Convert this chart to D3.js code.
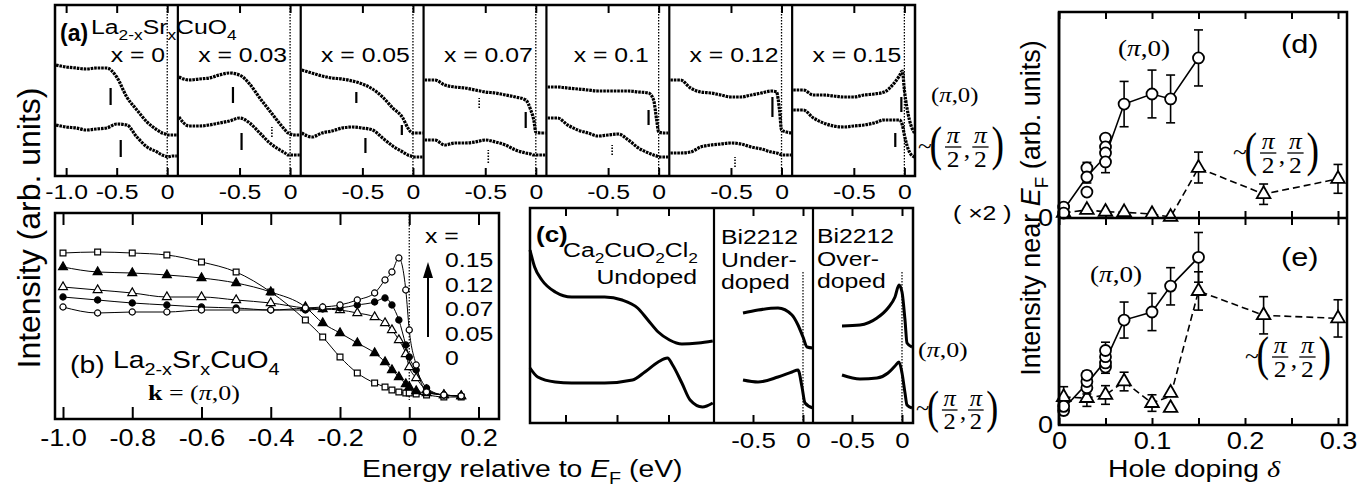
<!DOCTYPE html>
<html><head><meta charset="utf-8">
<script src="https://cdn.jsdelivr.net/npm/d3@7/dist/d3.min.js"></script>
<style>body{margin:0;background:#fff;} svg{display:block;}</style>
</head><body>
<svg id="fig" width="1372" height="491"></svg>
<script>
// ================= DATA =================
// Panel (a): La2-xSrxCuO4 spectra, upper = (pi,0), lower = ~(pi/2,pi/2)
const aDoping = ["0", "0.03", "0.05", "0.07", "0.1", "0.12", "0.15"];
const aEnergy = [-1.1,-1.0,-0.9,-0.8,-0.7,-0.6,-0.5,-0.4,-0.3,-0.2,-0.1,-0.05,-0.02,0,0.05,0.1];
const aPi0 = [
  [111,109,108,107,108,108,99,79,66,54,46,43,42,41,41,41],
  [99,96,97,98,101,103,101,92,78,65,52,46,43,42,41,41],
  [106,103,100,98,97,95,92,87,79,68,58,48,44,43,43,43],
  [96,96,91,89,88,86,84,83,81,79,76,66,56,44,43,43],
  [89,89,88,87,86,85,85,85,85,84,83,76,56,44,43,43],
  [96,96,88,84,83,81,79,79,81,83,85,84,66,46,44,43],
  [86,86,81,81,80,79,79,81,82,84,93,100,105,86,56,43]
];
const aNodal = [
  [51,49,48,46,47,48,52,51,39,29,24,21,20,19,20,20],
  [59,50,50,51,53,55,58,53,43,33,26,23,21,21,21,21],
  [43,39,43,45,48,49,48,46,38,30,24,21,20,19,19,19],
  [36,36,31,33,33,34,36,34,31,26,23,22,21,21,21,21],
  [58,58,51,46,43,40,41,42,36,28,23,21,20,19,19,19],
  [23,23,24,29,31,32,33,32,29,27,24,23,22,21,21,21],
  [66,66,58,53,50,49,50,51,53,56,56,56,51,41,24,19]
];
// marker bars: [energy, low, high, dotted]
const aMarks = [
  [[-0.56,71,88,0],[-0.46,19,36,0]],
  [[-0.565,73,89,0],[-0.18,39,49,1],[-0.48,26,43,0]],
  [[-0.56,73,84,0],[-0.11,41,51,0],[-0.47,23,38,0]],
  [[-0.56,68,78,1],[-0.10,48,64,0],[-0.47,13,26,1]],
  [[-0.10,51,66,0],[-0.46,21,31,1]],
  [[-0.09,59,79,0],[-0.46,9,19,1]],
  [[-0.03,64,79,0],[-0.09,29,43,0]]
];
const aTicksFirst = [-1.0,-0.5,0];
const aTicks = [-0.5,0];

// Panel (b): k = (pi,0)
const bEnergy = [-1.0,-0.9,-0.8,-0.7,-0.6,-0.5,-0.4,-0.3,-0.25,-0.2,-0.15,-0.1,-0.07,-0.05,-0.03,-0.01,0,0.02,0.05,0.1,0.15];
const bX000 = [167,168,167,165,158,148,128,100,83,63,47,37,33,30,28,27,27,26,25,23,23];
const bX005 = [153,148,147,145,142,137,128,113,97,87,77,67,58,50,43,36,33,29,27,25,24];
const bX007 = [133,130,127,123,123,120,117,112,111,110,107,103,97,90,80,66,53,42,30,25,24];
const bX012 = [123,120,117,115,113,112,110,110,111,112,115,118,122,115,100,75,63,50,32,25,24];
const bX015 = [113,107,108,108,110,110,110,112,113,115,120,127,140,148,162,130,90,55,28,25,24];
const bLegend = ["0.15","0.12","0.07","0.05","0"];
const bTicks = [-1.0,-0.8,-0.6,-0.4,-0.2,0,0.2];

// Panel (c)
const cE1Pi0 = [-1.845,-1.80,-1.73,-1.60,-1.44,-1.28,-1.12,-0.95,-0.80,-0.70,-0.60,-0.49,-0.37,-0.21,-0.07];
const cV1Pi0 = [173,156,143,131,126,126,126,123,115,103,91,83,79,80,82];
const cE1Nod = [-1.845,-1.77,-1.60,-1.44,-1.12,-0.85,-0.73,-0.60,-0.51,-0.46,-0.37,-0.29,-0.17,-0.07];
const cV1Nod = [55,46,41,40,40,43,51,61,65,58,40,23,16,20];
const cE2Pi0 = [-0.60,-0.45,-0.25,-0.11,-0.05,0.0,0.04,0.10];
const cV2Pi0 = [110,113,115,108,98,86,76,75];
const cE2Nod = [-0.60,-0.45,-0.25,-0.11,-0.05,-0.01,0.02,0.10];
const cV2Nod = [43,41,46,51,53,36,20,15];
const cE3 = [-0.60,-0.42,-0.25,-0.14,-0.07,-0.03,0.0,0.03,0.05,0.10];
const cV3Pi0 = [97,98,105,115,126,138,131,103,80,76];
const cV3Nod = [48,44,45,50,57,61,50,30,18,15];
const cTicksFirst = [-1.5,-1.0,-0.5];
const cTicks = [-0.5,0];

// Panels (d),(e): [doping, intensity]
const dPi0Pts = [[0.005,0.053],[0.005,0.024],[0.03,0.243],[0.03,0.199],[0.03,0.126],[0.05,0.388],[0.05,0.345],[0.05,0.316],[0.05,0.272],[0.07,0.553],[0.10,0.602],[0.12,0.578],[0.15,0.777]];
const dPi0Line = [[0.005,0.04],[0.03,0.2],[0.05,0.3],[0.07,0.553],[0.10,0.602],[0.12,0.578],[0.15,0.777]];
const dPi0Err = [[0.005,0.01,0.07],[0.03,0.17,0.27],[0.05,0.22,0.40],[0.07,0.443,0.663],[0.10,0.486,0.718],[0.12,0.462,0.694],[0.15,0.641,0.913]];
const dNodPts = [[0.005,0.025],[0.03,0.039],[0.05,0.03],[0.07,0.028],[0.10,0.019],[0.12,0.005],[0.15,0.243],[0.22,0.116],[0.30,0.19]];
const dNodErr = [[0.005,0.0,0.06],[0.15,0.17,0.32],[0.22,0.066,0.165],[0.30,0.12,0.26]];
const ePi0Pts = [[0.005,0.07],[0.005,0.09],[0.03,0.18],[0.03,0.21],[0.03,0.24],[0.05,0.28],[0.05,0.30],[0.05,0.33],[0.05,0.36],[0.07,0.507],[0.10,0.546],[0.12,0.671],[0.15,0.81]];
const ePi0Line = [[0.005,0.08],[0.03,0.2],[0.05,0.31],[0.07,0.507],[0.10,0.546],[0.12,0.671],[0.15,0.81]];
const ePi0Err = [[0.005,0.05,0.11],[0.03,0.15,0.26],[0.05,0.25,0.40],[0.07,0.42,0.594],[0.10,0.456,0.636],[0.12,0.58,0.76],[0.15,0.69,0.93]];
const eNodPts = [[0.005,0.135],[0.03,0.13],[0.05,0.145],[0.07,0.21],[0.10,0.106],[0.12,0.155],[0.12,0.082],[0.15,0.647],[0.22,0.53],[0.30,0.515]];
const eNodLine = [[0.005,0.135],[0.03,0.13],[0.05,0.145],[0.07,0.21],[0.10,0.106],[0.12,0.14],[0.15,0.647],[0.22,0.53],[0.30,0.515]];
const eNodErr = [[0.005,0.085,0.185],[0.03,0.09,0.17],[0.05,0.1,0.19],[0.07,0.165,0.255],[0.10,0.066,0.146],[0.15,0.555,0.74],[0.22,0.44,0.62],[0.30,0.425,0.605]];
const deTicks = [0,0.05,0.1,0.15,0.2,0.25,0.3];

// ================= DRAWING =================
const SANS = '"Liberation Sans", Arial, Helvetica, sans-serif';
const SERIF = '"Liberation Serif", "Times New Roman", serif';
const ink = "#000";
const SX = 1.18;
const svg = d3.select("#fig");
const defs = svg.append("defs");

function frame(x0,y0,x1,y1,sw){
  svg.append("rect").attr("x",x0).attr("y",y0).attr("width",x1-x0).attr("height",y1-y0)
    .attr("fill","none").attr("stroke",ink).attr("stroke-width",sw||2.5);
}
function vline(par,x,y0,y1,sw,dash){
  return par.append("line").attr("x1",x).attr("x2",x).attr("y1",y0).attr("y2",y1)
    .attr("stroke",ink).attr("stroke-width",sw).attr("stroke-dasharray",dash||null);
}
const fmtE = d => d===0 ? "0" : d.toFixed(1);
function axis(gen, scale, vals, y, size, fmt, fs, pad){
  const g = svg.append("g").attr("transform",`translate(0,${y})`)
    .call(gen(scale).tickValues(vals).tickSizeInner(size).tickSizeOuter(0)
      .tickPadding(pad||0).tickFormat(fmt || (()=>"")));
  g.select(".domain").remove();
  g.selectAll(".tick line").attr("stroke",ink).attr("stroke-width",2);
  g.selectAll("text").attr("font-family",SANS).attr("font-size",fs||21).attr("fill",ink)
    .attr("transform",`scale(${SX},1)`);
  return g;
}
function label(x,y,size,family,anchor,sx){
  const g = svg.append("g").attr("transform",`translate(${x},${y}) scale(${sx||SX},1)`);
  return g.append("text").attr("font-size",size).attr("font-family",family||SANS)
    .attr("text-anchor",anchor||"start").attr("fill",ink);
}
// parts: [string, mode] mode 0 normal, 1 subscript, 2 italic, 3 italic serif
function parts(t, list, size){
  let shifted = false;
  list.forEach(([s,m])=>{
    const sp = t.append("tspan").text(s);
    if (m===1){ sp.attr("font-size",size*0.7); if(!shifted){ sp.attr("dy",size*0.3); shifted=true; } }
    else if (shifted){ sp.attr("dy",-size*0.3); shifted=false; }
    if (m===2) sp.attr("font-style","italic");
    if (m===3) sp.attr("font-style","italic").attr("font-family",SERIF);
  });
  return t;
}
function piZero(x,y,size){
  const t = label(x,y,size,SERIF);
  t.append("tspan").text("(");
  t.append("tspan").attr("font-style","italic").text("π");
  t.append("tspan").text(",0)");
}
function nodal(x,y,s){
  const g = svg.append("g").attr("transform",`translate(${x},${y}) scale(${SX*0.9},1)`)
    .attr("font-family",SERIF).attr("fill",ink);
  g.append("text").attr("x",0).attr("y",0.28*s).attr("font-size",s).text("~");
  const paren = (px,ch)=>g.append("text").attr("transform",`translate(${px},${0.56*s}) scale(0.72,1)`)
    .attr("font-size",2.05*s).text(ch);
  const frac = cx=>{
    g.append("text").attr("x",cx).attr("y",-0.16*s).attr("text-anchor","middle").attr("font-size",s)
      .attr("font-style","italic").text("π");
    g.append("line").attr("x1",cx-0.32*s).attr("x2",cx+0.32*s).attr("y1",0).attr("y2",0)
      .attr("stroke",ink).attr("stroke-width",1.3);
    g.append("text").attr("x",cx).attr("y",0.82*s).attr("text-anchor","middle").attr("font-size",s).text("2");
  };
  paren(0.45*s,"(");
  frac(1.38*s);
  g.append("text").attr("x",1.8*s).attr("y",0.4*s).attr("font-size",s).text(",");
  frac(2.45*s);
  paren(2.88*s,")");
}
const chem = [["La",0],["2-x",1],["Sr",0],["x",1],["CuO",0],["4",1]];

// ---------- Panel (a) ----------
const A = {l:55, r:915, t:5, b:176};
const aW = (A.r-A.l)/aDoping.length;
const aY = d3.scaleLinear().domain([0,171]).range([A.b,A.t]);
aDoping.forEach((lab,i)=>{
  const x0 = A.l+i*aW, x1 = x0+aW;
  const xs = d3.scaleLinear().domain([-1.11,0.105]).range([x0,x1]);
  defs.append("clipPath").attr("id","ca"+i).append("rect")
    .attr("x",x0+1).attr("y",A.t).attr("width",aW-2).attr("height",A.b-A.t);
  const g = svg.append("g").attr("clip-path",`url(#ca${i})`);
  vline(g, xs(0), A.t, A.b, 1.3, "1.5,1.5");
  const ln = d3.line().x(d=>xs(d[0])).y(d=>aY(d[1])).curve(d3.curveMonotoneX);
  [aPi0[i], aNodal[i]].forEach(vals=>{
    g.append("path").datum(vals.map((v,k)=>[aEnergy[k],v])).attr("d",ln)
      .attr("fill","none").attr("stroke",ink).attr("stroke-width",3.2)
      .attr("stroke-dasharray","2.6,0.9").attr("stroke-linejoin","round");
  });
  aMarks[i].forEach(m=>{
    vline(g, xs(m[0]), aY(m[1]), aY(m[2]), m[3]?1.6:2.2, m[3]?"1.5,1.5":null);
  });
  const tv = i===0 ? aTicksFirst : aTicks;
  axis(d3.axisBottom, xs, tv, A.b, -8, fmtE, 21, 8);
  axis(d3.axisTop, xs, tv, A.t, -8, null);
  if (i>0) vline(svg, x0, A.t, A.b, 2.2);
  label(i===0 ? xs(-0.29) : xs(-0.47), 62, 21, SANS, "middle").text("x = " + lab);
});
frame(A.l,A.t,A.r,A.b);
label(60,41,23,SANS,"start",1.0).attr("font-weight","bold").text("(a)");
parts(label(91,34,21,SANS), chem, 21);
piZero(931,102,21);
nodal(918,147,24);
label(953,220,21,SANS).text("( ×2 )");

// ---------- Panel (b) ----------
const B = {l:55, r:499, t:213, b:419};
const bx = d3.scaleLinear().domain([-1.0,0.2]).range([63,478.5]);
const by = d3.scaleLinear().domain([0,207]).range([420,213]);
vline(svg, bx(0), B.t, by(20), 1.2, "1.5,1.5");
const bSeries = [
  {v:bX000, sym:d3.symbolSquare, size:34, fill:"#fff"},
  {v:bX005, sym:d3.symbolTriangle, size:34, fill:ink},
  {v:bX007, sym:d3.symbolTriangle, size:34, fill:"#fff"},
  {v:bX012, sym:d3.symbolCircle, size:30, fill:ink},
  {v:bX015, sym:d3.symbolCircle, size:30, fill:"#fff"}
];
const bLine = d3.line().x(d=>bx(d[0])).y(d=>by(d[1])).curve(d3.curveMonotoneX);
bSeries.forEach(s=>{
  svg.append("path").datum(s.v.map((v,k)=>[bEnergy[k],v])).attr("d",bLine)
    .attr("fill","none").attr("stroke",ink).attr("stroke-width",1);
});
bSeries.forEach(s=>{
  svg.append("g").selectAll("path").data(s.v.map((v,k)=>[bEnergy[k],v])).join("path")
    .attr("transform",d=>`translate(${bx(d[0])},${by(d[1])})`)
    .attr("d",d3.symbol().type(s.sym).size(s.size))
    .attr("fill",s.fill).attr("stroke",ink).attr("stroke-width",1.2);
});
axis(d3.axisBottom, bx, bTicks, B.b, -12, fmtE, 23, 11);
axis(d3.axisTop, bx, bTicks, B.t, -12, null);
frame(B.l,B.t,B.r,B.b);
label(425,243,21,SANS).text("x =");
bLegend.forEach((t,k)=> label(445, 267+24.5*k, 21, SANS).text(t));
vline(svg, 428, 337, 274, 2);
svg.append("path").attr("d","M428,262 L423,278 L433,278 Z").attr("fill",ink);
label(70,373,24,SANS).text("(b)");
parts(label(113,368,24,SANS), chem, 24);
{
  const t = label(148,400,22,SERIF);
  t.append("tspan").attr("font-weight","bold").text("k");
  t.append("tspan").text(" = (");
  t.append("tspan").attr("font-style","italic").text("π");
  t.append("tspan").text(",0)");
}

// ---------- Panel (c) ----------
const C = {l:530, r:913, t:208, b:423, d1:714, d2:813};
const cy = d3.scaleLinear().domain([0,215]).range([C.b,C.t]);
const cx1 = d3.scaleLinear().domain([-1.845,-0.058]).range([C.l,C.d1]);
const cx2 = d3.scaleLinear().domain([-0.89,0.10]).range([C.d1,C.d2]);
const cx3 = d3.scaleLinear().domain([-0.89,0.11]).range([C.d2,C.r]);
vline(svg, cx2(0), 272, C.b, 1.2, "1.5,1.5");
vline(svg, cx3(0), 272, C.b, 1.2, "1.5,1.5");
function cCurve(xs, es, vs){
  svg.append("path").datum(es.map((e,k)=>[e,vs[k]]))
    .attr("d", d3.line().x(d=>xs(d[0])).y(d=>cy(d[1])).curve(d3.curveMonotoneX))
    .attr("fill","none").attr("stroke",ink).attr("stroke-width",3).attr("stroke-linejoin","round");
}
cCurve(cx1, cE1Pi0, cV1Pi0); cCurve(cx1, cE1Nod, cV1Nod);
cCurve(cx2, cE2Pi0, cV2Pi0); cCurve(cx2, cE2Nod, cV2Nod);
cCurve(cx3, cE3, cV3Pi0); cCurve(cx3, cE3, cV3Nod);
axis(d3.axisTop, cx1, cTicksFirst, C.t, -8, null);
axis(d3.axisBottom, cx1, cTicksFirst, C.b, -8, null);
[cx2,cx3].forEach(xs=>{
  axis(d3.axisTop, xs, cTicks, C.t, -8, null);
  axis(d3.axisBottom, xs, cTicks, C.b, -8, fmtE, 22, 9);
});
vline(svg, C.d1, C.t, C.b, 2.2);
vline(svg, C.d2, C.t, C.b, 2.2);
frame(C.l,C.t,C.r,C.b);
label(536,242,22,SANS).attr("font-weight","bold").text("(c)");
parts(label(563,257,21,SANS), [["Ca",0],["2",1],["CuO",0],["2",1],["Cl",0],["2",1]], 21);
label(697,284,21,SANS,"end").text("Undoped");
label(721,244,21,SANS).text("Bi2212");
label(721,267,21,SANS).text("Under-");
label(721,289,21,SANS).text("doped");
label(817,243,21,SANS).text("Bi2212");
label(817,266,21,SANS).text("Over-");
label(817,288,21,SANS).text("doped");
piZero(918,357,22);
nodal(916,410,23);

// ---------- Panels (d),(e) ----------
const D = {l:1059, r:1347, t:12, m:218, b:425};
const dx = d3.scaleLinear().domain([0,0.3]).range([1059,1338]);
const dyS = d3.scaleLinear().domain([0,1]).range([D.m,D.t]);
const eyS = d3.scaleLinear().domain([0,1]).range([D.b,D.m]);
axis(d3.axisTop, dx, deTicks, D.t, -7, null);
axis(d3.axisTop, dx, deTicks, D.m, 7, null);
axis(d3.axisBottom, dx, deTicks, D.m, 7, null);
axis(d3.axisBottom, dx, deTicks, D.b, -7,
  d => (Math.round(d*100)%10===0) ? (d===0 ? "0" : d.toFixed(1)) : "", 23, 8);
function series(ys, pts, line, errs, sym, dashed){
  svg.append("path").datum(line).attr("d", d3.line().x(d=>dx(d[0])).y(d=>ys(d[1])))
    .attr("fill","none").attr("stroke",ink).attr("stroke-width",1.6)
    .attr("stroke-dasharray", dashed ? "7,4" : null);
  errs.forEach(e=>{
    const x = dx(e[0]);
    vline(svg, x, ys(e[1]), ys(e[2]), 1.6);
    [e[1],e[2]].forEach(v=> svg.append("line").attr("x1",x-4.5).attr("x2",x+4.5)
      .attr("y1",ys(v)).attr("y2",ys(v)).attr("stroke",ink).attr("stroke-width",1.6));
  });
  svg.append("g").selectAll("path").data(pts).join("path")
    .attr("transform",d=>`translate(${dx(d[0])},${ys(d[1])})`)
    .attr("d", d3.symbol().type(sym).size(sym===d3.symbolCircle ? 95 : 80))
    .attr("fill","#fff").attr("stroke",ink).attr("stroke-width",1.8);
}
series(dyS, dNodPts, dNodPts, dNodErr, d3.symbolTriangle, true);
series(dyS, dPi0Pts, dPi0Line, dPi0Err, d3.symbolCircle, false);
series(eyS, eNodPts, eNodLine, eNodErr, d3.symbolTriangle, true);
series(eyS, ePi0Pts, ePi0Line, ePi0Err, d3.symbolCircle, false);
vline(svg, D.l, D.t, D.b, 2.5);
svg.append("line").attr("x1",D.l).attr("x2",D.r).attr("y1",D.m).attr("y2",D.m).attr("stroke",ink).attr("stroke-width",2.5);
frame(D.l,D.t,D.r,D.b);
label(1053, dyS(0)+8, 23, SANS, "end").text("0");
label(1053, eyS(0)+8, 23, SANS, "end").text("0");
label(1281,53,26,SANS).text("(d)");
label(1281,266,26,SANS).text("(e)");
piZero(1118,56,23);
piZero(1090,282,23);
nodal(1233,153,24);
nodal(1245,357,24);

// ---------- Axis titles ----------
svg.append("text").attr("transform","translate(40,228) rotate(-90)")
  .attr("text-anchor","middle").attr("font-family",SANS).attr("font-size",32).attr("fill",ink)
  .text("Intensity (arb. units)");
{
  const t = svg.append("text").attr("transform","translate(1040,208) rotate(-90)")
    .attr("text-anchor","middle").attr("font-family",SANS).attr("font-size",27).attr("fill",ink);
  parts(t, [["Intensity near ",0],["E",2],["F",1],[" (arb. units)",0]], 27);
}
parts(label(362,477,24,SANS), [["Energy relative to ",0],["E",2],["F",1],["  (eV)",0]], 24);
parts(label(1108,477,24,SANS), [["Hole doping ",0],["δ",3]], 24);
</script>
</body></html>
